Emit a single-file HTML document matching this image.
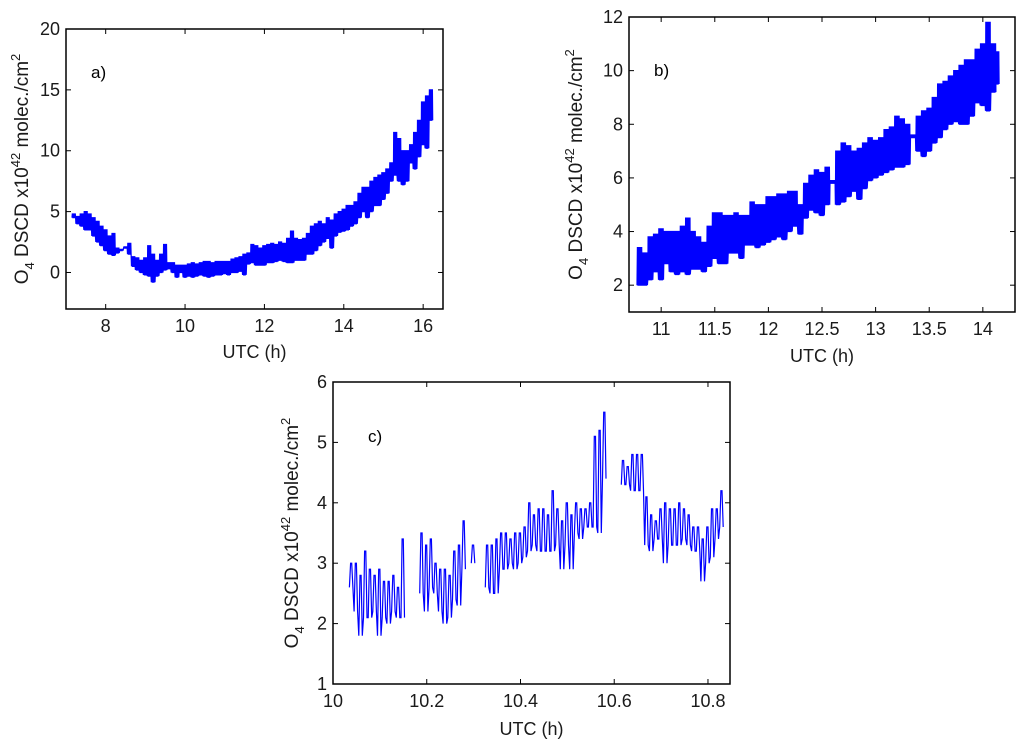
<!DOCTYPE html>
<html><head><meta charset="utf-8"><style>
body{margin:0;background:#fff}
svg{display:block;font-family:"Liberation Sans",Arial,sans-serif}
</style></head><body>
<svg id="s" width="1024" height="744" viewBox="0 0 1024 744"></svg>
<script>
// Panel a data (x bins, low/high envelope)
const aX=[7.2,7.3,7.4,7.5,7.6,7.7,7.8,7.9,8.0,8.1,8.2,8.3,8.4,8.5,8.6,8.7,8.8,8.9,9.0,9.1,9.2,9.3,9.4,9.5,9.6,9.7,9.8,9.9,10.0,10.1,10.2,10.3,10.4,10.5,10.6,10.7,10.8,10.9,11.0,11.1,11.2,11.3,11.4,11.5,11.6,11.7,11.8,11.9,12.0,12.1,12.2,12.3,12.4,12.5,12.6,12.7,12.8,12.9,13.0,13.1,13.2,13.3,13.4,13.5,13.6,13.7,13.8,13.9,14.0,14.1,14.2,14.3,14.4,14.5,14.6,14.7,14.8,14.9,15.0,15.1,15.2,15.3,15.4,15.5,15.6,15.7,15.8,15.9,16.0,16.1,16.2];
const aLo=[4.5,4.0,3.8,3.5,3.5,3.0,2.5,2.2,1.8,1.5,1.4,1.6,1.8,2.0,1.5,0.5,0.2,0.0,-0.2,-0.3,-0.8,-0.3,0.0,0.2,0.3,0.0,-0.4,0.0,-0.4,-0.3,-0.4,-0.3,-0.2,-0.3,-0.4,-0.3,-0.2,-0.2,-0.1,-0.2,0.0,0.0,0.1,-0.2,0.7,0.8,0.6,0.6,0.6,0.8,0.8,0.9,1.0,0.9,0.8,0.8,1.0,1.0,1.0,1.5,1.5,1.8,2.2,2.5,2.8,2.0,3.0,3.3,3.4,3.5,3.8,4.0,4.5,5.0,4.5,5.0,5.5,5.5,6.0,6.5,7.5,8.0,7.5,7.2,7.5,9.0,8.5,9.5,10.5,10.2,12.5];
const aHi=[4.8,4.6,4.8,5.0,4.8,4.5,4.2,3.8,3.5,3.0,3.2,2.0,1.9,2.1,2.4,1.3,1.2,1.0,1.2,2.2,1.5,1.0,1.5,2.3,0.8,0.8,0.6,0.6,0.6,0.7,0.8,0.7,0.8,0.9,0.9,0.8,0.9,0.9,0.9,0.9,1.1,1.2,1.3,1.5,1.6,2.3,2.2,2.0,2.2,2.3,2.4,2.3,2.5,2.4,2.8,3.4,2.8,2.7,2.8,3.2,3.8,4.0,4.2,4.0,4.5,4.3,4.8,5.0,5.2,5.5,5.5,5.8,6.5,7.0,7.0,7.5,7.8,8.0,8.2,8.5,9.0,11.5,11.0,10.0,10.0,10.5,11.5,12.5,14.0,14.5,15.0];
// Panel b data
const bX=[10.8,10.85,10.9,10.95,11.0,11.05,11.1,11.15,11.2,11.25,11.3,11.35,11.4,11.45,11.5,11.55,11.6,11.65,11.7,11.75,11.8,11.85,11.9,11.95,12.0,12.05,12.1,12.15,12.2,12.25,12.3,12.35,12.4,12.45,12.5,12.55,12.6,12.65,12.7,12.75,12.8,12.85,12.9,12.95,13.0,13.05,13.1,13.15,13.2,13.25,13.3,13.35,13.4,13.45,13.5,13.55,13.6,13.65,13.7,13.75,13.8,13.85,13.9,13.95,14.0,14.05,14.1,14.13];
const bLo=[2.0,2.0,2.2,2.5,2.2,2.8,2.5,2.4,2.5,2.4,2.6,2.6,2.5,2.7,3.0,2.8,2.8,3.2,3.2,3.0,3.5,3.5,3.4,3.5,3.6,3.7,3.8,3.7,4.0,4.2,3.9,4.5,4.8,4.7,4.6,5.0,5.8,5.0,5.1,5.3,5.5,5.2,5.6,5.9,6.0,6.1,6.2,6.3,6.4,6.4,6.5,7.5,7.0,6.8,7.0,7.3,7.5,7.8,8.0,8.1,8.0,8.0,8.3,8.8,8.7,8.5,9.2,9.5];
const bHi=[3.4,3.2,3.8,3.9,4.1,4.0,4.0,4.0,4.2,4.5,4.0,3.8,3.6,4.2,4.7,4.7,4.6,4.6,4.7,4.6,4.6,5.1,5.0,5.0,5.3,5.3,5.4,5.4,5.5,5.5,5.0,5.8,6.1,6.3,6.2,6.4,5.9,7.0,7.3,7.2,7.0,7.1,7.3,7.5,7.4,7.5,7.8,7.9,8.3,8.2,8.0,7.6,8.3,8.5,8.6,9.0,9.5,9.6,9.8,10.0,10.2,10.4,10.4,10.8,11.0,11.8,11.0,10.7];
// Panel c data (null = gap)
const cX=[10.04,10.05,10.06,10.07,10.08,10.09,10.10,10.11,10.12,10.13,10.14,10.15,10.16,10.17,10.18,10.19,10.20,10.21,10.22,10.23,10.24,10.25,10.26,10.27,10.28,10.29,10.30,10.31,10.32,10.33,10.34,10.35,10.36,10.37,10.38,10.39,10.40,10.41,10.42,10.43,10.44,10.45,10.46,10.47,10.48,10.49,10.50,10.51,10.52,10.53,10.54,10.55,10.56,10.57,10.58,10.59,10.60,10.61,10.62,10.63,10.64,10.65,10.66,10.67,10.68,10.69,10.70,10.71,10.72,10.73,10.74,10.75,10.76,10.77,10.78,10.79,10.80,10.81,10.82,10.83];
const cLo=[2.6,2.2,1.8,2.1,2.1,2.2,1.8,2.1,2.0,2.2,2.1,2.1,null,null,null,2.5,2.2,2.6,2.5,2.2,2.0,2.1,2.4,2.3,2.9,null,3.0,null,null,2.6,2.5,2.5,2.9,2.9,3.0,2.9,3.0,3.1,3.2,3.3,3.2,3.2,3.2,3.2,3.3,2.9,3.3,2.9,3.5,3.4,3.6,3.6,3.6,3.5,4.4,null,null,null,4.3,4.3,4.2,4.2,4.2,3.3,3.2,3.4,3.4,3.0,3.3,3.3,3.3,3.4,3.3,3.2,3.2,2.7,3.0,3.1,3.4,3.6];
const cHi=[3.0,3.0,2.8,3.2,2.9,2.8,2.9,2.7,2.7,2.8,2.6,3.4,null,null,null,3.5,3.3,3.4,3.0,2.9,2.9,2.8,3.2,3.3,3.7,null,3.3,null,null,3.3,3.3,3.4,3.5,3.5,3.4,3.5,3.5,3.6,4.0,3.8,3.9,3.9,3.8,4.2,3.9,3.7,4.0,3.8,4.0,3.9,3.9,4.0,5.1,5.2,5.5,null,null,null,4.7,4.6,4.8,4.8,4.8,4.1,3.8,3.7,3.9,4.0,3.9,3.9,4.0,3.9,3.8,3.6,3.6,3.4,3.6,3.9,3.9,4.2];
const aXTicks=[8,10,12,14,16], aYTicks=[0,5,10,15,20];
const bXTicks=[11,11.5,12,12.5,13,13.5,14], bYTicks=[2,4,6,8,10,12];
const cXTicks=[10,10.2,10.4,10.6,10.8], cYTicks=[1,2,3,4,5,6];

const NS='http://www.w3.org/2000/svg', svg=document.getElementById('s');
function mk(t,a,p){const e=document.createElementNS(NS,t);for(const k in a)e.setAttribute(k,a[k]);(p||svg).appendChild(e);return e;}
function panel(id,box,xd,yd,xs,lo,hi,xt,yt,sub,lab,labPos,ylabX,xlabY){
  const g=mk('g',{});
  
  
  const [L,T,R,B]=box;
  const sx=v=>L+(v-xd[0])/(xd[1]-xd[0])*(R-L);
  const sy=v=>B-(v-yd[0])/(yd[1]-yd[0])*(B-T);
  let d='',pen=false;
  const step=xs.length>1?(xs[1]-xs[0]):0.01;
  for(let i=0;i<xs.length;i++){
    if(lo[i]===null){pen=false;continue;}
    for(let k=0;k<sub;k++){
      const x=xs[i]+step*(k/sub-0.5);
      const v1=(k%2?hi[i]:lo[i]), v2=(k%2?lo[i]:hi[i]);
      d+=(pen?'L':'M')+sx(x).toFixed(1)+' '+sy(v1).toFixed(1);pen=true;
      d+='L'+sx(x+step/(2*sub)).toFixed(1)+' '+sy(v2).toFixed(1);
    }
  }
  const p=mk('path',{d:d,fill:'none',stroke:'#0000ff','stroke-width':1.2},g);
  
  
  const fr=mk('rect',{x:L,y:T,width:R-L,height:B-T,fill:'none',stroke:'#000','stroke-width':1.5},g);
  
  
  xt.forEach(v=>{const x=sx(v);
    mk('line',{x1:x,y1:B,x2:x,y2:B-5,stroke:'#000'},g);mk('line',{x1:x,y1:T,x2:x,y2:T+5,stroke:'#000'},g);
    const t=mk('text',{x:x,y:B+23,'text-anchor':'middle','font-size':18,fill:'#1a1a1a'},g);t.textContent=v;
    
    });
  yt.forEach(v=>{const y=sy(v);
    mk('line',{x1:L,y1:y,x2:L+5,y2:y,stroke:'#000'},g);mk('line',{x1:R,y1:y,x2:R-5,y2:y,stroke:'#000'},g);
    const t=mk('text',{x:L-6,y:y+6,'text-anchor':'end','font-size':18,fill:'#1a1a1a'},g);t.textContent=v;
    
    });
  const pl=mk('text',{x:labPos[0],y:labPos[1],'font-size':17,fill:'#000'},g);pl.textContent=lab;
  
  
  const xl=mk('text',{x:(L+R)/2,y:xlabY,'text-anchor':'middle','font-size':18,fill:'#1a1a1a'},g);xl.textContent='UTC (h)';
  
  
  const cy=(T+B)/2;
  const yl=mk('text',{x:ylabX,y:cy,'text-anchor':'middle','font-size':19,fill:'#1a1a1a',transform:'rotate(-90 '+ylabX+' '+cy+')'},g);
  yl.innerHTML='O<tspan font-size="13" dy="6">4</tspan><tspan dy="-6"> DSCD x10</tspan><tspan font-size="13" dy="-8">42</tspan><tspan dy="8"> molec./cm</tspan><tspan font-size="13" dy="-8">2</tspan>';
  
  
}
panel('a',[66,29,443,309],[7,16.5],[-3,20],aX,aLo,aHi,aXTicks,aYTicks,6,'a)',[91,78],28,358);
panel('b',[629,17,1015,312],[10.7,14.3],[1,12],bX,bLo,bHi,bXTicks,bYTicks,8,'b)',[654,76],582,362);
panel('c',[333,382,730,684],[10,10.847],[1,6],cX,cLo,cHi,cXTicks,cYTicks,2,'c)',[368,442],298,735);
</script>
</body></html>
